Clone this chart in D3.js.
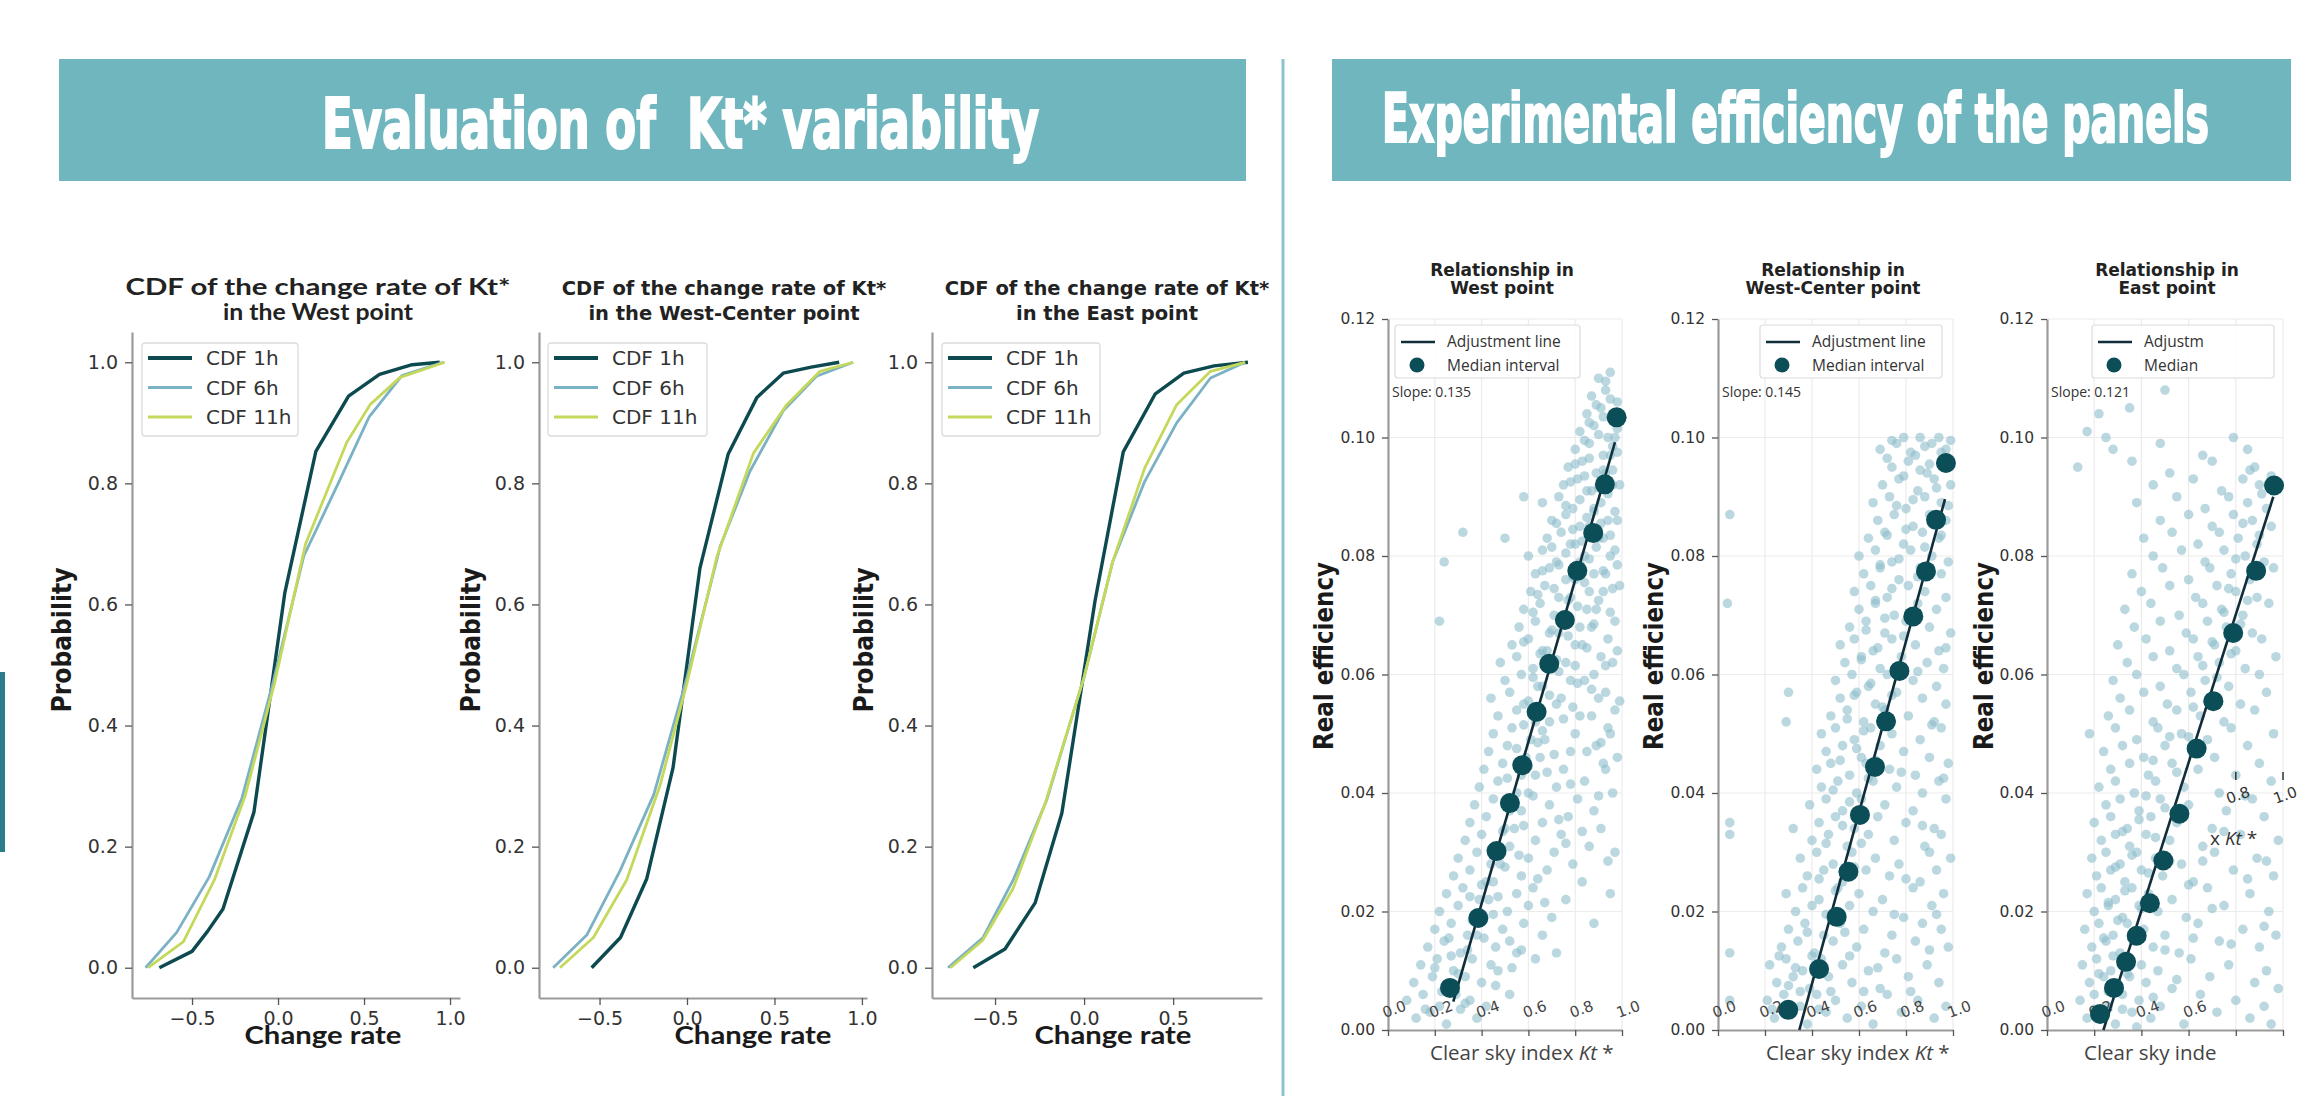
<!DOCTYPE html>
<html><head><meta charset="utf-8">
<script src="https://cdn.jsdelivr.net/npm/d3@7"></script>
<style>body{margin:0;background:#fff}svg{display:block}</style>
</head><body>
<svg id="c" width="2304" height="1096"></svg>
<script>
// ---------- DATA ----------
const headerLeft = "Evaluation of  Kt* variability";
const headerRight = "Experimental efficiency of the panels";
const cdfSeriesNames = ["CDF 1h", "CDF 6h", "CDF 11h"];
const cdfYTicks = [0, 0.2, 0.4, 0.6, 0.8, 1.0];

const cdfTitles = [
  ["CDF of the change rate of Kt*", "in the West point"],
  ["CDF of the change rate of Kt*", "in the West-Center point"],
  ["CDF of the change rate of Kt*", "in the East point"]
];
// West
const west1hX = [-0.69,-0.50,-0.41,-0.32,-0.14,0.04,0.22,0.41,0.59,0.78,0.94];
const west1hY = [0,0.027,0.06,0.097,0.257,0.62,0.853,0.944,0.980,0.996,1.0];
const west6hX = [-0.77,-0.59,-0.40,-0.21,-0.03,0.15,0.35,0.53,0.72,0.96];
const west6hY = [0,0.058,0.15,0.28,0.47,0.68,0.80,0.91,0.978,1.0];
const west11hX = [-0.755,-0.55,-0.37,-0.19,-0.02,0.16,0.40,0.535,0.71,0.97];
const west11hY = [0,0.043,0.145,0.285,0.47,0.70,0.868,0.93,0.975,1.0];
// West-Center
const wc1hX = [-0.545,-0.38,-0.23,-0.08,0.074,0.235,0.40,0.55,0.71,0.87];
const wc1hY = [0,0.05,0.147,0.33,0.66,0.848,0.942,0.982,0.992,1.0];
const wc6hX = [-0.765,-0.573,-0.383,-0.19,0.0,0.19,0.36,0.55,0.74,0.95];
const wc6hY = [0,0.054,0.16,0.286,0.48,0.696,0.82,0.92,0.977,1.0];
const wc11hX = [-0.726,-0.535,-0.345,-0.155,0.0,0.17,0.38,0.57,0.76,0.95];
const wc11hY = [0,0.05,0.145,0.30,0.47,0.678,0.85,0.93,0.985,1.0];
// East
const east1hX = [-0.622,-0.444,-0.275,-0.125,0.062,0.22,0.40,0.56,0.73,0.92];
const east1hY = [0,0.031,0.107,0.255,0.607,0.852,0.948,0.982,0.994,1.0];
const east6hX = [-0.764,-0.567,-0.398,-0.21,0.0,0.16,0.34,0.52,0.71,0.904];
const east6hY = [0,0.05,0.145,0.277,0.48,0.67,0.803,0.90,0.974,1.0];
const east11hX = [-0.75,-0.57,-0.40,-0.22,0.0,0.16,0.34,0.52,0.71,0.904];
const east11hY = [0,0.045,0.13,0.27,0.48,0.67,0.825,0.93,0.985,1.0];

// Scatter panels
const scTitles = [["Relationship in","West point"],["Relationship in","West-Center point"],["Relationship in","East point"]];
const scSlopes = ["Slope: 0.135","Slope: 0.145","Slope: 0.121"];
const scLegendLabels = [["Adjustment line","Median interval"],["Adjustment line","Median interval"],["Adjustm","Median"]];
const scYTicks = [0,0.02,0.04,0.06,0.08,0.10,0.12];
const scXTicks = [0,0.2,0.4,0.6,0.8,1.0];

const westMedX = [0.265,0.386,0.464,0.521,0.574,0.635,0.689,0.756,0.809,0.877,0.927,0.977];
const westMedY = [0.0071,0.0189,0.0302,0.0383,0.0447,0.0537,0.0618,0.0692,0.0775,0.0839,0.0921,0.1034];
const wcMedX = [0.299,0.430,0.505,0.555,0.604,0.668,0.715,0.772,0.831,0.885,0.928,0.970];
const wcMedY = [0.0034,0.0103,0.0191,0.0267,0.0363,0.0444,0.0521,0.0606,0.0698,0.0774,0.0861,0.0957];
const eastMedX = [0.225,0.284,0.335,0.380,0.436,0.493,0.561,0.634,0.705,0.789,0.886,0.962];
const eastMedY = [0.0027,0.0071,0.0115,0.0159,0.0214,0.0286,0.0365,0.0475,0.0555,0.0670,0.0775,0.0919];

const westFitX = [0.279,0.970], westFitY = [0.0048,0.0992];
const wcFitX = [0.346,0.966], wcFitY = [0.0,0.0896];
const eastFitX = [0.239,0.959], eastFitY = [0.0,0.0900];

const westPts = [
[0.12,0.002],[0.18,0.003],[0.25,0.001],[0.31,0.0035],[0.38,0.002],
[0.08,0.005],[0.15,0.006],[0.22,0.004],[0.29,0.006],[0.35,0.005],[0.42,0.004],[0.52,0.006],
[0.11,0.008],[0.19,0.009],[0.26,0.007],[0.33,0.009],[0.40,0.008],[0.47,0.010],
[0.14,0.011],[0.21,0.012],[0.28,0.010],[0.36,0.012],[0.44,0.011],[0.55,0.013],[0.63,0.012],
[0.17,0.014],[0.24,0.015],[0.31,0.013],[0.38,0.016],[0.46,0.014],[0.52,0.015],[0.72,0.013],
[0.20,0.017],[0.27,0.018],[0.34,0.016],[0.41,0.019],[0.49,0.017],[0.58,0.018],[0.66,0.016],
[0.22,0.020],[0.30,0.021],[0.37,0.019],[0.43,0.022],[0.51,0.020],[0.60,0.021],[0.70,0.019],[0.88,0.018],
[0.25,0.023],[0.32,0.024],[0.39,0.022],[0.45,0.025],[0.55,0.023],[0.62,0.024],[0.76,0.022],
[0.28,0.026],[0.35,0.027],[0.42,0.025],[0.48,0.028],[0.57,0.026],[0.68,0.027],[0.83,0.025],[0.95,0.023],
[0.30,0.029],[0.38,0.030],[0.44,0.028],[0.52,0.031],[0.60,0.029],[0.71,0.030],[0.79,0.028],
[0.33,0.032],[0.40,0.033],[0.47,0.031],[0.54,0.034],[0.63,0.032],[0.74,0.033],[0.86,0.031],[0.97,0.030],
[0.35,0.035],[0.42,0.036],[0.50,0.034],[0.57,0.037],[0.66,0.035],[0.77,0.036],[0.91,0.034],
[0.37,0.038],[0.45,0.039],[0.52,0.037],[0.60,0.040],[0.69,0.038],[0.81,0.039],[0.88,0.037],[0.96,0.040],
[0.39,0.041],[0.47,0.042],[0.55,0.040],[0.63,0.043],[0.72,0.041],[0.84,0.042],[0.93,0.044],
[0.41,0.044],[0.49,0.045],[0.57,0.043],[0.65,0.046],[0.75,0.044],[0.85,0.047],[0.92,0.045],[0.98,0.046],
[0.43,0.047],[0.51,0.048],[0.59,0.046],[0.67,0.049],[0.78,0.047],[0.89,0.048],[0.95,0.050],
[0.45,0.050],[0.53,0.051],[0.61,0.049],[0.69,0.052],[0.80,0.050],[0.87,0.053],[0.94,0.051],
[0.47,0.053],[0.55,0.054],[0.63,0.052],[0.72,0.055],[0.82,0.053],[0.90,0.056],[0.97,0.054],
[0.44,0.056],[0.52,0.057],[0.58,0.055],[0.66,0.058],[0.74,0.056],[0.84,0.059],[0.93,0.057],
[0.50,0.059],[0.57,0.060],[0.64,0.058],[0.70,0.061],[0.78,0.059],[0.88,0.060],[0.96,0.062],
[0.48,0.062],[0.55,0.063],[0.62,0.061],[0.68,0.064],[0.76,0.062],[0.83,0.065],[0.91,0.063],[0.98,0.064],
[0.53,0.065],[0.60,0.066],[0.66,0.064],[0.73,0.067],[0.80,0.065],[0.87,0.068],[0.94,0.066],
[0.56,0.068],[0.63,0.069],[0.69,0.067],[0.75,0.070],[0.82,0.068],[0.89,0.071],[0.97,0.069],
[0.58,0.071],[0.65,0.072],[0.71,0.070],[0.78,0.073],[0.85,0.071],[0.92,0.074],
[0.61,0.074],[0.67,0.075],[0.73,0.073],[0.80,0.076],[0.86,0.074],[0.93,0.077],[0.99,0.075],
[0.63,0.077],[0.69,0.078],[0.76,0.076],[0.82,0.079],[0.88,0.077],[0.95,0.080],
[0.60,0.080],[0.66,0.081],[0.72,0.079],[0.78,0.082],[0.84,0.080],[0.90,0.083],[0.97,0.081],
[0.68,0.083],[0.74,0.084],[0.80,0.082],[0.86,0.085],[0.92,0.083],[0.98,0.086],
[0.70,0.086],[0.76,0.087],[0.82,0.085],[0.88,0.088],[0.94,0.086],
[0.66,0.089],[0.73,0.090],[0.79,0.088],[0.85,0.091],[0.91,0.089],[0.96,0.092],
[0.75,0.092],[0.81,0.093],[0.87,0.091],[0.93,0.094],[0.99,0.092],
[0.77,0.095],[0.83,0.096],[0.89,0.094],[0.95,0.097],
[0.80,0.098],[0.86,0.099],[0.92,0.097],[0.97,0.100],
[0.82,0.101],[0.88,0.102],[0.94,0.100],
[0.85,0.104],[0.91,0.105],[0.97,0.103],
[0.87,0.107],[0.93,0.108],[0.98,0.106],
[0.90,0.110],[0.95,0.111],
[0.32,0.084],[0.24,0.079],[0.22,0.069],[0.58,0.090],[0.50,0.083]
];
const westPts2 = [
[0.16,0.0035],[0.23,0.0065],[0.30,0.0095],[0.27,0.0125],[0.34,0.0135],[0.41,0.0155],[0.36,0.0185],[0.45,0.0195],
[0.40,0.0245],[0.47,0.0225],[0.50,0.0275],[0.44,0.0305],[0.56,0.0295],[0.49,0.0335],[0.58,0.0345],[0.54,0.0385],
[0.62,0.0395],[0.51,0.0425],[0.60,0.0445],[0.68,0.0435],[0.55,0.0475],[0.64,0.0485],[0.71,0.0465],[0.58,0.0515],
[0.66,0.0505],[0.75,0.0525],[0.60,0.0555],[0.69,0.0565],[0.79,0.0545],[0.62,0.0595],[0.73,0.0605],[0.81,0.0585],
[0.65,0.0635],[0.72,0.0625],[0.80,0.0615],[0.58,0.0655],[0.70,0.0675],[0.77,0.0665],[0.85,0.0645],[0.62,0.0705],
[0.74,0.0695],[0.81,0.0715],[0.88,0.0685],[0.95,0.0705],[0.64,0.0735],[0.71,0.0745],[0.77,0.0725],[0.84,0.0755],
[0.90,0.0725],[0.96,0.0745],[0.66,0.0775],[0.73,0.0785],[0.79,0.0765],[0.86,0.0795],[0.92,0.0775],[0.98,0.0785],
[0.70,0.0815],[0.76,0.0805],[0.83,0.0825],[0.89,0.0815],[0.95,0.0835],[0.72,0.0855],[0.79,0.0845],[0.85,0.0865],
[0.91,0.0855],[0.97,0.0875],[0.76,0.0885],[0.82,0.0895],[0.88,0.0875],[0.94,0.0905],[0.78,0.0925],[0.84,0.0935],
[0.90,0.0915],[0.96,0.0945],[0.80,0.0955],[0.86,0.0965],[0.92,0.0945],[0.98,0.0975],[0.84,0.0995],[0.90,0.1005],
[0.96,0.0985],[0.86,0.1025],[0.92,0.1035],[0.98,0.1015],[0.89,0.1055],[0.95,0.1065],[0.93,0.1095],[0.83,0.0335],
[0.90,0.0395],[0.94,0.0285],[0.78,0.0415],[0.87,0.0575],[0.93,0.0615],[0.99,0.0555],[0.91,0.0485],[0.76,0.0315],
[0.67,0.0215],[0.46,0.0075],[0.53,0.0105],[0.33,0.0045],[0.20,0.0105],[0.26,0.0155],[0.57,0.0135],[0.64,0.0255],
[0.73,0.0355],[0.35,0.0225]
];
const wcPts = [
[0.24,0.002],[0.31,0.003],[0.38,0.001],[0.46,0.003],[0.55,0.002],[0.66,0.001],[0.78,0.003],[0.92,0.002],
[0.21,0.005],[0.28,0.006],[0.35,0.004],[0.42,0.006],[0.50,0.005],[0.61,0.004],[0.72,0.006],[0.85,0.005],[0.97,0.004],
[0.25,0.008],[0.32,0.009],[0.39,0.007],[0.47,0.009],[0.57,0.008],[0.69,0.007],[0.81,0.009],[0.94,0.008],
[0.22,0.011],[0.29,0.012],[0.36,0.010],[0.44,0.012],[0.53,0.011],[0.64,0.010],[0.76,0.012],[0.89,0.011],
[0.27,0.014],[0.34,0.015],[0.41,0.013],[0.49,0.015],[0.59,0.014],[0.71,0.013],[0.84,0.015],[0.98,0.014],
[0.30,0.017],[0.37,0.018],[0.45,0.016],[0.52,0.018],[0.62,0.017],[0.74,0.016],[0.87,0.018],[0.95,0.017],
[0.33,0.020],[0.40,0.021],[0.48,0.019],[0.56,0.021],[0.66,0.020],[0.79,0.019],[0.91,0.021],
[0.29,0.023],[0.36,0.024],[0.43,0.022],[0.51,0.024],[0.60,0.023],[0.70,0.022],[0.83,0.024],[0.96,0.023],
[0.38,0.026],[0.45,0.027],[0.53,0.025],[0.63,0.027],[0.73,0.026],[0.86,0.025],[0.93,0.027],
[0.35,0.029],[0.42,0.030],[0.49,0.028],[0.57,0.030],[0.67,0.029],[0.77,0.028],[0.90,0.030],[0.99,0.029],
[0.40,0.032],[0.47,0.033],[0.55,0.031],[0.64,0.033],[0.75,0.032],[0.88,0.031],[0.95,0.033],
[0.43,0.035],[0.50,0.036],[0.58,0.034],[0.68,0.036],[0.80,0.035],[0.92,0.034],
[0.39,0.038],[0.46,0.039],[0.53,0.037],[0.61,0.039],[0.71,0.038],[0.83,0.037],[0.97,0.039],
[0.44,0.041],[0.51,0.042],[0.59,0.040],[0.66,0.042],[0.76,0.041],[0.87,0.040],[0.94,0.042],
[0.42,0.044],[0.48,0.045],[0.56,0.043],[0.63,0.045],[0.73,0.044],[0.84,0.043],[0.98,0.045],
[0.46,0.047],[0.53,0.048],[0.61,0.046],[0.69,0.048],[0.79,0.047],[0.90,0.046],
[0.44,0.050],[0.50,0.051],[0.58,0.049],[0.65,0.051],[0.74,0.050],[0.86,0.049],[0.95,0.051],
[0.48,0.053],[0.55,0.054],[0.62,0.052],[0.71,0.054],[0.81,0.053],[0.92,0.052],
[0.52,0.056],[0.59,0.057],[0.67,0.055],[0.76,0.057],[0.87,0.056],[0.97,0.055],
[0.50,0.059],[0.57,0.060],[0.64,0.058],[0.72,0.060],[0.83,0.059],[0.93,0.058],
[0.54,0.062],[0.61,0.063],[0.69,0.061],[0.78,0.063],[0.89,0.062],[0.96,0.061],
[0.52,0.065],[0.58,0.066],[0.66,0.064],[0.74,0.066],[0.84,0.065],[0.94,0.064],
[0.56,0.068],[0.63,0.069],[0.71,0.067],[0.80,0.069],[0.90,0.068],[0.99,0.067],
[0.60,0.071],[0.67,0.072],[0.75,0.070],[0.85,0.072],[0.93,0.071],
[0.58,0.074],[0.65,0.075],[0.72,0.073],[0.81,0.075],[0.88,0.074],[0.97,0.073],
[0.62,0.077],[0.69,0.078],[0.77,0.076],[0.86,0.078],[0.95,0.077],
[0.60,0.080],[0.67,0.081],[0.74,0.079],[0.82,0.081],[0.91,0.080],[0.98,0.079],
[0.64,0.083],[0.71,0.084],[0.79,0.082],[0.87,0.084],[0.94,0.083],
[0.68,0.086],[0.75,0.087],[0.83,0.085],[0.90,0.087],[0.97,0.086],
[0.66,0.089],[0.73,0.090],[0.80,0.088],[0.88,0.090],[0.95,0.089],
[0.70,0.092],[0.77,0.093],[0.85,0.091],[0.92,0.093],[0.99,0.092],
[0.74,0.095],[0.81,0.096],[0.89,0.094],[0.96,0.095],
[0.69,0.098],[0.76,0.099],[0.84,0.097],[0.91,0.099],[0.97,0.098],
[0.79,0.100],[0.86,0.100],[0.94,0.100],
[0.05,0.087],[0.04,0.072],[0.05,0.035],[0.05,0.033],[0.05,0.013],[0.05,0.005],[0.29,0.052],[0.32,0.034],[0.30,0.057]
];
const wcPts2 = [
[0.27,0.0035],[0.35,0.0065],[0.43,0.0035],[0.33,0.0105],[0.40,0.0125],[0.48,0.0065],[0.56,0.0125],[0.38,0.0165],
[0.46,0.0195],[0.54,0.0165],[0.43,0.0255],[0.50,0.0235],[0.58,0.0275],[0.46,0.0315],[0.53,0.0345],[0.61,0.0315],
[0.49,0.0405],[0.56,0.0385],[0.64,0.0425],[0.52,0.0455],[0.59,0.0475],[0.67,0.0455],[0.55,0.0525],[0.62,0.0505],
[0.70,0.0545],[0.58,0.0565],[0.65,0.0585],[0.74,0.0565],[0.61,0.0625],[0.68,0.0645],[0.77,0.0615],[0.63,0.0675],
[0.71,0.0695],[0.79,0.0665],[0.67,0.0725],[0.74,0.0745],[0.83,0.0705],[0.69,0.0785],[0.77,0.0795],[0.85,0.0765],
[0.72,0.0835],[0.80,0.0845],[0.88,0.0815],[0.95,0.0835],[0.76,0.0885],[0.83,0.0895],[0.91,0.0865],[0.98,0.0885],
[0.79,0.0935],[0.86,0.0945],[0.93,0.0915],[0.72,0.0965],[0.82,0.0975],[0.88,0.0985],[0.95,0.0975],[0.90,0.0955],
[0.74,0.0995],[0.99,0.0995],[0.80,0.0255],[0.87,0.0345],[0.93,0.0195],[0.78,0.0435],[0.91,0.0515],[0.96,0.0425],
[0.85,0.0605],[0.97,0.0645],[0.68,0.0105],[0.75,0.0195],[0.82,0.0065],[0.90,0.0135],[0.62,0.0065],[0.30,0.0075],
[0.23,0.0035],[0.26,0.0125]
];
const eastPts = [
[0.17,0.002],[0.23,0.003],[0.29,0.001],[0.36,0.003],[0.44,0.002],[0.58,0.001],[0.72,0.003],[0.86,0.002],[0.95,0.001],
[0.14,0.005],[0.20,0.006],[0.26,0.004],[0.32,0.006],[0.39,0.005],[0.48,0.004],[0.65,0.006],[0.80,0.005],[0.92,0.004],
[0.18,0.008],[0.24,0.009],[0.30,0.007],[0.35,0.009],[0.42,0.008],[0.53,0.007],[0.69,0.009],[0.88,0.008],[0.98,0.007],
[0.15,0.011],[0.21,0.012],[0.27,0.010],[0.33,0.012],[0.40,0.011],[0.47,0.010],[0.61,0.012],[0.77,0.011],[0.93,0.010],
[0.19,0.014],[0.25,0.015],[0.31,0.013],[0.37,0.015],[0.45,0.014],[0.56,0.013],[0.73,0.015],[0.90,0.014],
[0.16,0.017],[0.22,0.018],[0.28,0.016],[0.34,0.018],[0.41,0.017],[0.50,0.016],[0.64,0.018],[0.83,0.017],[0.97,0.016],
[0.20,0.020],[0.26,0.021],[0.32,0.019],[0.39,0.021],[0.47,0.020],[0.59,0.019],[0.75,0.021],[0.94,0.020],
[0.17,0.023],[0.23,0.024],[0.29,0.022],[0.36,0.024],[0.43,0.023],[0.53,0.022],[0.68,0.024],[0.86,0.023],
[0.21,0.026],[0.27,0.027],[0.33,0.025],[0.40,0.027],[0.49,0.026],[0.62,0.025],[0.79,0.027],[0.96,0.026],
[0.19,0.029],[0.25,0.030],[0.31,0.028],[0.38,0.030],[0.46,0.029],[0.57,0.028],[0.71,0.030],[0.89,0.029],
[0.23,0.032],[0.29,0.033],[0.35,0.031],[0.42,0.033],[0.52,0.032],[0.66,0.031],[0.82,0.033],[0.98,0.032],
[0.20,0.035],[0.27,0.036],[0.34,0.034],[0.44,0.036],[0.55,0.035],[0.70,0.034],[0.92,0.036],
[0.25,0.038],[0.31,0.039],[0.39,0.037],[0.48,0.039],[0.60,0.038],[0.76,0.037],[0.87,0.039],
[0.22,0.041],[0.29,0.042],[0.37,0.040],[0.46,0.042],[0.58,0.041],[0.73,0.040],[0.95,0.042],
[0.27,0.044],[0.35,0.045],[0.43,0.043],[0.53,0.045],[0.64,0.044],[0.80,0.043],[0.90,0.045],
[0.24,0.047],[0.32,0.048],[0.41,0.046],[0.50,0.048],[0.62,0.047],[0.71,0.046],[0.85,0.048],
[0.18,0.050],[0.29,0.051],[0.38,0.049],[0.47,0.051],[0.57,0.050],[0.68,0.049],[0.78,0.051],[0.96,0.050],
[0.26,0.053],[0.35,0.054],[0.45,0.052],[0.55,0.054],[0.65,0.053],[0.75,0.052],[0.88,0.054],
[0.31,0.056],[0.41,0.057],[0.51,0.055],[0.61,0.057],[0.70,0.056],[0.82,0.055],[0.93,0.057],
[0.28,0.059],[0.38,0.060],[0.48,0.058],[0.58,0.060],[0.67,0.059],[0.77,0.058],[0.90,0.060],
[0.34,0.062],[0.45,0.063],[0.55,0.061],[0.64,0.063],[0.73,0.062],[0.84,0.061],[0.97,0.063],
[0.30,0.065],[0.42,0.066],[0.52,0.064],[0.62,0.066],[0.71,0.065],[0.80,0.064],[0.91,0.066],
[0.37,0.068],[0.48,0.069],[0.59,0.067],[0.68,0.069],[0.76,0.068],[0.87,0.067],
[0.33,0.071],[0.44,0.072],[0.56,0.070],[0.66,0.072],[0.74,0.071],[0.83,0.070],[0.94,0.072],
[0.40,0.074],[0.52,0.075],[0.63,0.073],[0.72,0.075],[0.80,0.074],[0.89,0.073],
[0.36,0.077],[0.49,0.078],[0.60,0.076],[0.69,0.078],[0.78,0.077],[0.86,0.076],[0.96,0.078],
[0.45,0.080],[0.57,0.081],[0.67,0.079],[0.75,0.081],[0.84,0.080],[0.92,0.079],
[0.41,0.083],[0.53,0.084],[0.64,0.082],[0.73,0.084],[0.81,0.083],[0.89,0.082],
[0.48,0.086],[0.60,0.087],[0.70,0.085],[0.79,0.087],[0.87,0.086],[0.95,0.085],
[0.38,0.089],[0.55,0.090],[0.67,0.088],[0.77,0.090],[0.85,0.089],[0.93,0.088],
[0.45,0.092],[0.62,0.093],[0.74,0.091],[0.83,0.093],[0.90,0.092],
[0.13,0.095],[0.36,0.096],[0.52,0.094],[0.70,0.096],[0.88,0.095],
[0.28,0.098],[0.48,0.099],[0.66,0.097],[0.85,0.098],
[0.17,0.101],[0.25,0.100],[0.79,0.100],
[0.22,0.104],[0.35,0.105],
[0.50,0.108]
];
const eastPts2 = [
[0.20,0.0035],[0.26,0.0065],[0.32,0.0035],[0.22,0.0095],[0.28,0.0125],[0.34,0.0095],[0.24,0.0155],[0.30,0.0185],
[0.36,0.0155],[0.26,0.0215],[0.33,0.0235],[0.40,0.0205],[0.29,0.0275],[0.36,0.0295],[0.43,0.0265],[0.32,0.0335],
[0.39,0.0355],[0.46,0.0325],[0.42,0.0395],[0.50,0.0375],[0.45,0.0455],[0.55,0.0435],[0.60,0.0495],[0.52,0.0495],
[0.62,0.0545],[0.68,0.0555],[0.66,0.0615],[0.72,0.0595],[0.70,0.0655],[0.78,0.0635],[0.75,0.0705],[0.82,0.0685],
[0.77,0.0745],[0.85,0.0725],[0.80,0.0795],[0.88,0.0775],[0.83,0.0855],[0.90,0.0835],[0.91,0.0905],[0.95,0.0935],
[0.86,0.0945],[0.55,0.0085],[0.62,0.0155],[0.70,0.0205],[0.78,0.0145],[0.85,0.0255],[0.92,0.0175],[0.66,0.0285],
[0.75,0.0335],[0.84,0.0395],[0.93,0.0285],[0.60,0.0245],[0.50,0.0135],[0.45,0.0055],[0.38,0.0005],[0.52,0.0285]
];

// ---------- DRAWING ----------
const svg = d3.select('#c');
const C1 = '#0d4a50', C6 = '#7bb1c4', C11 = '#c4d95c';
const TICKC = '#333', SPINE = '#9a9a9a';
const hfont = "'Liberation Sans Narrow','DejaVu Sans Condensed','Liberation Sans',Arial,sans-serif";

// fit a text to a target width by horizontal scaling
function fitText(sel, x, y, target){
  const w = sel.node().getComputedTextLength();
  sel.attr('x',0).attr('y',0).attr('transform',`translate(${x},${y}) scale(${target/w},1)`);
}

// headers
svg.append('rect').attr('x',59).attr('y',59).attr('width',1187).attr('height',122).attr('fill','#70b6be');
svg.append('rect').attr('x',1332).attr('y',59).attr('width',959).attr('height',122).attr('fill','#70b6be');
const h1 = svg.append('text').attr('font-family',hfont).attr('font-weight','bold').attr('font-size',70)
  .attr('fill','#fff').attr('stroke','#fff').attr('stroke-width',2.2).style('white-space','pre').text(headerLeft);
fitText(h1, 322, 148, 717);
const h2 = svg.append('text').attr('font-family',hfont).attr('font-weight','bold').attr('font-size',68)
  .attr('fill','#fff').attr('stroke','#fff').attr('stroke-width',2.2).text(headerRight);
fitText(h2, 1382, 142, 827);
// divider and side bar
svg.append('line').attr('x1',1283).attr('x2',1283).attr('y1',59).attr('y2',1096).attr('stroke','#8cc3ce').attr('stroke-width',3);
svg.append('rect').attr('x',0).attr('y',672).attr('width',5).attr('height',180).attr('fill','#2c7c89');

function styleAxis(g, fs, ff){
  g.select('.domain').attr('stroke',SPINE).attr('stroke-width',2.2);
  g.selectAll('.tick line').attr('stroke','#555').attr('stroke-width',1.3);
  g.selectAll('.tick text').attr('fill',TICKC).attr('font-size',fs).attr('font-family',ff);
}

function drawCdf(p){
  const x = d3.scaleLinear().domain(p.xDomain).range(p.xRange);
  const y = d3.scaleLinear().domain([-0.05,1.05]).range([998,332]);
  const g = svg.append('g');
  const ff = "'DejaVu Sans',sans-serif";
  const ya = g.append('g').attr('transform',`translate(${p.xRange[0]},0)`)
    .call(d3.axisLeft(y).tickValues(cdfYTicks).tickFormat(d3.format('.1f')).tickSize(7).tickSizeOuter(0).tickPadding(7));
  styleAxis(ya,19,ff);
  const xa = g.append('g').attr('transform','translate(0,998)')
    .call(d3.axisBottom(x).tickValues(p.xTicks).tickFormat(d3.format('.1f')).tickSize(7).tickSizeOuter(0).tickPadding(7));
  styleAxis(xa,19,ff);
  const line = d3.line().x(d=>x(d[0])).y(d=>y(d[1]));
  const cols=[C1,C6,C11], widths=[3.4,2.8,2.8];
  p.series.forEach((s,i)=>{
    g.append('path').datum(d3.zip(s[0],s[1])).attr('d',line).attr('fill','none')
      .attr('stroke',cols[i]).attr('stroke-width',widths[i]).attr('stroke-linejoin','round');
  });
  // legend
  const L = p.legend;
  g.append('rect').attr('x',L[0]).attr('y',343).attr('width',L[1]-L[0]).attr('height',93)
    .attr('fill','#fff').attr('fill-opacity',0.85).attr('stroke','#dcdcdc').attr('stroke-width',1.3).attr('rx',3);
  cdfSeriesNames.forEach((n,i)=>{
    const yy = 358 + i*29.5;
    g.append('line').attr('x1',L[0]+6).attr('x2',L[0]+50).attr('y1',yy).attr('y2',yy)
      .attr('stroke',cols[i]).attr('stroke-width',widths[i]+0.4);
    g.append('text').attr('x',L[0]+64).attr('y',yy+7).attr('font-family',ff).attr('font-size',20)
      .attr('fill','#333').text(n);
  });
  // title
  p.title.forEach((t,i)=>{
    const tt = g.append('text').attr('x',p.titleX).attr('y',295+i*25).attr('text-anchor','middle')
      .attr('font-family',p.titleFont).attr('font-weight','bold').attr('font-size',p.titleSize).attr('fill','#222').text(t);
    if (p.titleW) tt.attr('textLength',p.titleW[i]).attr('lengthAdjust','spacingAndGlyphs');
  });
  // axis labels
  g.append('text').attr('transform',`translate(${p.ylabX},640) rotate(-90)`).attr('text-anchor','middle')
    .attr('font-family',hfont).attr('font-weight','bold').attr('font-size',27).attr('fill','#1a1a1a')
    .attr('textLength',145).attr('lengthAdjust','spacingAndGlyphs').text('Probability');
  g.append('text').attr('x',p.xlabX).attr('y',1044).attr('text-anchor','middle')
    .attr('font-family',"Lato,'Open Sans',sans-serif").attr('font-weight','bold').attr('font-size',24).attr('fill','#1a1a1a')
    .attr('textLength',157).attr('lengthAdjust','spacingAndGlyphs').text('Change rate');
}

drawCdf({xDomain:[-0.849,1.058], xRange:[132,460], xTicks:[-0.5,0,0.5,1.0], legend:[142,298],
  series:[[west1hX,west1hY],[west6hX,west6hY],[west11hX,west11hY]], title:cdfTitles[0], titleX:318,
  titleFont:"Lato,'Open Sans',sans-serif", titleSize:23, titleW:[385,190], ylabX:71, xlabX:323});
drawCdf({xDomain:[-0.846,1.029], xRange:[539,867], xTicks:[-0.5,0,0.5,1.0], legend:[548,707],
  series:[[wc1hX,wc1hY],[wc6hX,wc6hY],[wc11hX,wc11hY]], title:cdfTitles[1], titleX:724,
  titleFont:"'DejaVu Sans',sans-serif", titleSize:19.5, ylabX:480, xlabX:753});
drawCdf({xDomain:[-0.854,0.999], xRange:[932,1262], xTicks:[-0.5,0,0.5], legend:[942,1100],
  series:[[east1hX,east1hY],[east6hX,east6hY],[east11hX,east11hY]], title:cdfTitles[2], titleX:1107,
  titleFont:"'DejaVu Sans',sans-serif", titleSize:19.5, ylabX:873, xlabX:1113});

let clipId = 0;
function drawScatter(p){
  const x = d3.scaleLinear().domain([0,1]).range(p.xRange);
  const y = d3.scaleLinear().domain([0,0.12]).range([1030,319]);
  const g = svg.append('g');
  const ff = "'DejaVu Sans',sans-serif";
  const of = "'Open Sans','DejaVu Sans',sans-serif";
  // grid
  g.append('g').selectAll('line').data(scYTicks.slice(1)).join('line')
    .attr('x1',p.xRange[0]).attr('x2',p.xRange[1]).attr('y1',d=>y(d)).attr('y2',d=>y(d))
    .attr('stroke','#ececec').attr('stroke-width',1.2);
  g.append('g').selectAll('line').data(scXTicks.slice(1)).join('line')
    .attr('x1',d=>x(d)).attr('x2',d=>x(d)).attr('y1',319).attr('y2',1030)
    .attr('stroke','#ececec').attr('stroke-width',1.2);
  // points
  const cid = 'clip'+(clipId++);
  g.append('clipPath').attr('id',cid).append('rect').attr('x',p.xRange[0]).attr('y',319)
    .attr('width',p.xRange[1]-p.xRange[0]+3).attr('height',711);
  g.append('g').attr('clip-path',`url(#${cid})`).selectAll('circle').data(p.pts).join('circle')
    .attr('cx',d=>x(d[0])).attr('cy',d=>y(d[1])).attr('r',4.8)
    .attr('fill','#8dbecb').attr('fill-opacity',0.6);
  // axes
  const ya = g.append('g').attr('transform',`translate(${p.xRange[0]},0)`)
    .call(d3.axisLeft(y).tickValues(scYTicks).tickFormat(d3.format('.2f')).tickSize(6).tickSizeOuter(0).tickPadding(7));
  styleAxis(ya,15.5,ff);
  const xa = g.append('g').attr('transform','translate(0,1030)')
    .call(d3.axisBottom(x).tickValues(scXTicks).tickFormat('').tickSize(6).tickSizeOuter(0));
  styleAxis(xa,15,ff);
  // rotated tick labels inside the axes
  g.append('g').selectAll('text').data(p.xLabTicks).join('text')
    .attr('transform',d=>`translate(${x(d)+8},${p.xLabY}) rotate(-20)`).attr('text-anchor','middle')
    .attr('font-family',ff).attr('font-size',15).attr('fill','#444').text(d3.format('.1f'));
  // fit line
  g.append('line').attr('x1',x(p.fitX[0])).attr('x2',x(p.fitX[1])).attr('y1',y(p.fitY[0])).attr('y2',y(p.fitY[1]))
    .attr('stroke','#102d3a').attr('stroke-width',2.6);
  // medians
  g.append('g').selectAll('circle').data(d3.zip(p.medX,p.medY)).join('circle')
    .attr('cx',d=>x(d[0])).attr('cy',d=>y(d[1])).attr('r',10).attr('fill','#0b4e58');
  // legend
  const L = p.legend;
  g.append('rect').attr('x',L[0]).attr('y',325).attr('width',L[1]-L[0]).attr('height',53)
    .attr('fill','#fff').attr('fill-opacity',0.85).attr('stroke','#dcdcdc').attr('stroke-width',1.2).attr('rx',3);
  g.append('line').attr('x1',L[0]+6).attr('x2',L[0]+40).attr('y1',342).attr('y2',342).attr('stroke','#102d3a').attr('stroke-width',2.6);
  g.append('circle').attr('cx',L[0]+22).attr('cy',365).attr('r',7.5).attr('fill','#0b4e58');
  p.legLabels.forEach((t,i)=>{
    g.append('text').attr('x',L[0]+52).attr('y',347+i*24).attr('font-family',of).attr('font-size',15.5)
      .attr('fill','#333').text(t);
  });
  g.append('text').attr('x',p.xRange[0]+4).attr('y',397).attr('font-family',of).attr('font-size',14)
    .attr('fill','#333').text(p.slope);
  // title
  p.title.forEach((t,i)=>{
    g.append('text').attr('x',p.titleX).attr('y',276+i*18).attr('text-anchor','middle')
      .attr('font-family',ff).attr('font-weight','bold').attr('font-size',17).attr('fill','#222').text(t);
  });
  // y label
  g.append('text').attr('transform',`translate(${p.ylabX},656) rotate(-90)`).attr('text-anchor','middle')
    .attr('font-family',hfont).attr('font-weight','bold').attr('font-size',27).attr('fill','#1a1a1a')
    .attr('textLength',188).attr('lengthAdjust','spacingAndGlyphs').text('Real efficiency');
  // x label
  const xl = g.append('text').attr('x',p.xlab[0]).attr('y',1060).attr('font-family',of).attr('font-size',20.5).attr('fill','#444');
  xl.append('tspan').text(p.xlab[1]);
  if (p.xlab[2]) { xl.append('tspan').attr('font-style','italic').text('Kt'); xl.append('tspan').text(' *'); }
  return {x,y,g};
}

drawScatter({xRange:[1388,1622], pts:westPts.concat(westPts2), medX:westMedX, medY:westMedY, fitX:westFitX, fitY:westFitY,
  legend:[1395,1580], legLabels:scLegendLabels[0], slope:scSlopes[0], title:scTitles[0], titleX:1502,
  ylabX:1333, xlab:[1430,'Clear sky index ',true], xLabTicks:scXTicks, xLabY:1014});
drawScatter({xRange:[1718,1953], pts:wcPts.concat(wcPts2), medX:wcMedX, medY:wcMedY, fitX:wcFitX, fitY:wcFitY,
  legend:[1760,1942], legLabels:scLegendLabels[1], slope:scSlopes[1], title:scTitles[1], titleX:1833,
  ylabX:1663, xlab:[1766,'Clear sky index ',true], xLabTicks:scXTicks, xLabY:1014});
const east = drawScatter({xRange:[2047,2283], pts:eastPts.concat(eastPts2), medX:eastMedX, medY:eastMedY, fitX:eastFitX, fitY:eastFitY,
  legend:[2092,2274], legLabels:scLegendLabels[2], slope:scSlopes[2], title:scTitles[2], titleX:2167,
  ylabX:1993, xlab:[2084,'Clear sky inde',false], xLabTicks:[0,0.2,0.4,0.6], xLabY:1014});
// stray overlay fragment in the East panel (from an overlapping axis)
const strayTicks = [0.8, 1.0];
east.g.append('g').selectAll('line').data(strayTicks).join('line')
  .attr('x1',d=>east.x(d)).attr('x2',d=>east.x(d)).attr('y1',772).attr('y2',780)
  .attr('stroke','#333').attr('stroke-width',1.5);
east.g.append('g').selectAll('text').data(strayTicks).join('text')
  .attr('transform',d=>`translate(${east.x(d)+4},${800}) rotate(-20)`).attr('text-anchor','middle')
  .attr('font-family',"'DejaVu Sans',sans-serif").attr('font-size',15).attr('fill','#333').text(d3.format('.1f'));
const sx = east.g.append('text').attr('x',2210).attr('y',845).attr('font-family',"'Open Sans',sans-serif").attr('font-size',19).attr('fill','#333');
sx.append('tspan').text('x ');
sx.append('tspan').attr('font-style','italic').text('Kt');
sx.append('tspan').text(' *');
</script>
</body></html>
